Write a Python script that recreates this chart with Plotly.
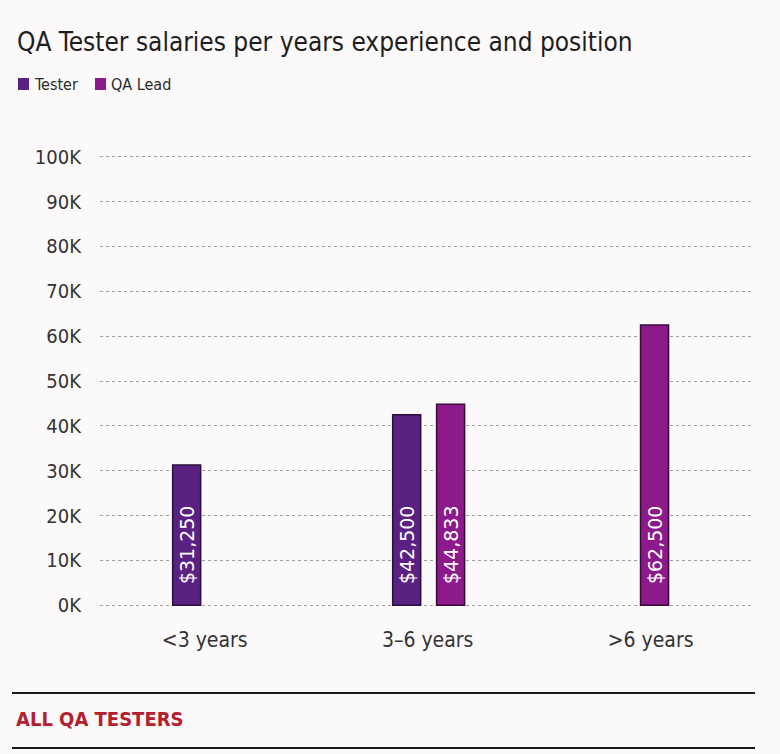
import plotly.graph_objects as go

categories = ["<3 years", "3–6 years", ">6 years"]
tester_values = [31250, 42500, None]
lead_values = [None, 44833, 62500]
tester_labels = ["$31,250", "$42,500", ""]
lead_labels = ["", "$44,833", "$62,500"]
y_tick_values = [0, 10000, 20000, 30000, 40000, 50000, 60000, 70000, 80000, 90000, 100000]
y_tick_labels = ["0K", "10K", "20K", "30K", "40K", "50K", "60K", "70K", "80K", "90K", "100K"]
series_names = ["Tester", "QA Lead"]

FONT = "DejaVu Sans Condensed, DejaVu Sans, sans-serif"
BAR_FONT = "DejaVu Sans, sans-serif"
TESTER_COLOR = "#5a2183"
LEAD_COLOR = "#8c1a8a"
PAD = "\u00a0\u00a0\u00a0"

W, H = 780, 754
ML, MR, MT, MB = 100, 28, 155, 147
PW, PH = W - ML - MR, H - MT - MB


def px(x):
    return (x - ML) / PW


def py(y):
    return (H - MB - y) / PH


BAR_W = 0.1256
tester_offsets = [-0.144, -0.157, 0]
lead_offsets = [0, 0.040, -0.045]

fig = go.Figure()
fig.add_trace(go.Bar(
    name=series_names[0], x=categories, y=tester_values,
    text=[PAD + t if t else "" for t in tester_labels],
    textposition="inside", insidetextanchor="start",
    textangle=-90, textfont=dict(color="white", size=19, family=BAR_FONT),
    width=BAR_W, offset=tester_offsets, showlegend=False,
    marker=dict(color=TESTER_COLOR, line=dict(color="#2a0f3a", width=1.5)),
))
fig.add_trace(go.Bar(
    name=series_names[1], x=categories, y=lead_values,
    text=[PAD + t if t else "" for t in lead_labels],
    textposition="inside", insidetextanchor="start",
    textangle=-90, textfont=dict(color="white", size=19, family=BAR_FONT),
    width=BAR_W, offset=lead_offsets, showlegend=False,
    marker=dict(color=LEAD_COLOR, line=dict(color="#3a0a3a", width=1.5)),
))

# manual legend: small squares right next to labels
legend_items = [(series_names[0], TESTER_COLOR, 18), (series_names[1], LEAD_COLOR, 95)]
shapes = []
annotations = []
for name, col, x0 in legend_items:
    shapes.append(dict(type="rect", xref="paper", yref="paper",
                       x0=px(x0), x1=px(x0 + 11), y0=py(90), y1=py(78),
                       fillcolor=col, line=dict(width=0)))
    annotations.append(dict(text=name, xref="paper", yref="paper",
                            x=px(x0 + 14), y=py(84),
                            xanchor="left", yanchor="middle", showarrow=False,
                            font=dict(family=FONT, size=16, color="#2b2b2b")))

shapes += [
    dict(type="line", xref="paper", yref="paper",
         x0=px(12), x1=px(755), y0=py(693), y1=py(693),
         line=dict(color="#1a1a1a", width=2)),
    dict(type="line", xref="paper", yref="paper",
         x0=px(12), x1=px(755), y0=py(748), y1=py(748),
         line=dict(color="#1a1a1a", width=2)),
]
annotations.append(dict(text="<b>ALL QA TESTERS</b>", xref="paper", yref="paper",
                        x=px(14), y=py(719), xanchor="left", yanchor="middle",
                        showarrow=False, font=dict(family=FONT, size=20, color="#b3202f")))

fig.update_layout(
    width=W, height=H,
    margin=dict(l=ML, r=MR, t=MT, b=MB),
    paper_bgcolor="#fbf9f9", plot_bgcolor="rgba(0,0,0,0)",
    barmode="group",
    font=dict(family=FONT, color="#2b2b2b"),
    showlegend=False,
    title=dict(
        text="QA Tester salaries per years experience and position",
        font=dict(family=FONT, size=26, color="#1e1e1e"),
        xref="container", yref="container", x=17 / W, y=1 - 42 / H,
        xanchor="left", yanchor="middle",
    ),
    xaxis=dict(
        range=[-0.47, 2.455], showgrid=False, zeroline=False, showline=False,
        ticks="", tickfont=dict(size=21, family=FONT, color="#333"),
        ticklabelstandoff=18,
    ),
    yaxis=dict(
        range=[-400, 100400], tickvals=y_tick_values, ticktext=y_tick_labels,
        showgrid=True, gridcolor="#a0a0a0", griddash="dot", gridwidth=1,
        zeroline=False, showline=False, ticks="",
        tickfont=dict(size=20, family=FONT, color="#333"),
        ticklabelstandoff=18,
    ),
    shapes=shapes,
    annotations=annotations,
)

fig.write_html("out.html")
